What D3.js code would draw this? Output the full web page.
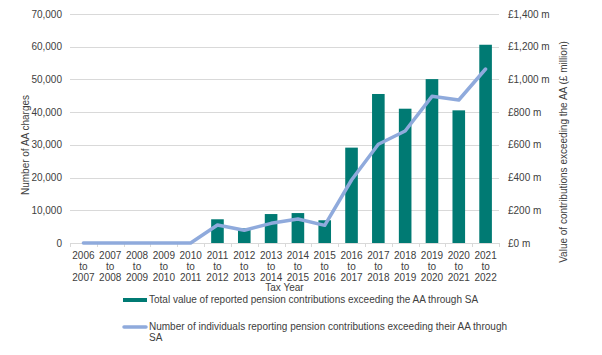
<!DOCTYPE html>
<html><head><meta charset="utf-8">
<script src="https://cdn.jsdelivr.net/npm/d3@7"></script>
<style>
body{margin:0;background:#fff;}
svg text{font-family:"Liberation Sans",Arial,sans-serif;fill:#404040;}
</style></head>
<body>
<svg id="chart" width="602" height="355"></svg>
<script>
const startYears = [2006,2007,2008,2009,2010,2011,2012,2013,2014,2015,2016,2017,2018,2019,2020,2021];
const categories = startYears.map(y => [String(y), "to", String(y+1)]);
const valueMillions = [0,0,0,0,0,145,90,177,183,139,583,911,821,1002,811,1212];
const individuals = [0,0,0,0,0,5500,3880,6010,7340,5400,19260,30170,34240,44840,43710,53190];
const leftTicks = [0,10000,20000,30000,40000,50000,60000,70000];
const rightTicks = [0,200,400,600,800,1000,1200,1400];
const legendLabels = ["Total value of reported pension contributions exceeding the AA through SA",
  "Number of individuals reporting pension contributions exceeding their AA through", "SA"];

const svg = d3.select("#chart");
const pL = 70, pR = 499, pT = 14, pB = 243;
const x = d3.scaleBand().domain(d3.range(categories.length)).range([pL, pR]).padding(0);
const yL = d3.scaleLinear().domain([0,70000]).range([pB, pT]);
const yR = d3.scaleLinear().domain([0,1400]).range([pB, pT]);

// gridlines
svg.append("g").selectAll("line").data(leftTicks.slice(1)).join("line")
  .attr("x1", pL).attr("x2", pR)
  .attr("y1", d => Math.round(yL(d)) + 0.5).attr("y2", d => Math.round(yL(d)) + 0.5)
  .attr("stroke", "#D9D9D9").attr("stroke-width", 1);

// left axis labels
const fmt = d3.format(",");
svg.append("g").selectAll("text").data(leftTicks).join("text")
  .attr("x", 62).attr("y", d => yL(d) + 3.5).attr("text-anchor", "end")
  .attr("font-size", 10).text(d => fmt(d));

// right axis labels
svg.append("g").selectAll("text").data(rightTicks).join("text")
  .attr("x", 508).attr("y", d => yR(d) + 3.5).attr("text-anchor", "start")
  .attr("font-size", 10).text(d => "£" + fmt(d) + " m");

// bars
const bw = x.bandwidth() * 0.47;
svg.append("g").selectAll("rect").data(valueMillions).join("rect")
  .attr("x", (d,i) => x(i) + x.bandwidth()/2 - bw/2)
  .attr("width", bw)
  .attr("y", d => yR(d))
  .attr("height", d => pB - yR(d))
  .attr("fill", "#007A73");

// x axis
svg.append("line").attr("x1", pL).attr("x2", pR).attr("y1", pB + 0.5).attr("y2", pB + 0.5)
  .attr("stroke", "#D9D9D9");
svg.append("g").selectAll("line").data(d3.range(categories.length + 1)).join("line")
  .attr("x1", i => Math.round(pL + i * x.step()) + 0.5).attr("x2", i => Math.round(pL + i * x.step()) + 0.5)
  .attr("y1", pB).attr("y2", pB + 4).attr("stroke", "#D9D9D9");

// line
const line = d3.line().x((d,i) => x(i) + x.bandwidth()/2).y(d => yL(d));
svg.append("path").datum(individuals).attr("d", line)
  .attr("fill", "none").attr("stroke", "#8FAADC").attr("stroke-width", 3.5)
  .attr("stroke-linejoin", "round").attr("stroke-linecap", "round");

// x labels
const xl = svg.append("g").selectAll("text").data(categories).join("text")
  .attr("text-anchor", "middle").attr("font-size", 10);
xl.each(function(d, i) {
  const t = d3.select(this);
  d.forEach((s, k) => t.append("tspan").attr("x", x(i) + x.bandwidth()/2).attr("y", 258.5 + k * 11.2).text(s));
});

svg.append("text").attr("x", (pL + pR)/2).attr("y", 290.5).attr("text-anchor", "middle")
  .attr("font-size", 10).text("Tax Year");

// axis titles
svg.append("text").attr("transform", "translate(29,145) rotate(-90)").attr("text-anchor", "middle")
  .attr("font-size", 10).text("Number of AA charges");
svg.append("text").attr("transform", "translate(567,152) rotate(-90)").attr("text-anchor", "middle")
  .attr("font-size", 10).text("Value of contributions exceeding the AA (£ million)");

// legend
svg.append("rect").attr("x", 123).attr("y", 298).attr("width", 24).attr("height", 4).attr("fill", "#007A73");
svg.append("text").attr("x", 149).attr("y", 302.5).attr("font-size", 10).text(legendLabels[0]);
svg.append("line").attr("x1", 124).attr("x2", 146).attr("y1", 327).attr("y2", 327)
  .attr("stroke", "#8FAADC").attr("stroke-width", 3.5).attr("stroke-linecap", "round");
svg.append("text").attr("x", 149).attr("y", 330).attr("font-size", 10).text(legendLabels[1]);
svg.append("text").attr("x", 149).attr("y", 341).attr("font-size", 10).text(legendLabels[2]);
</script>
</body></html>
